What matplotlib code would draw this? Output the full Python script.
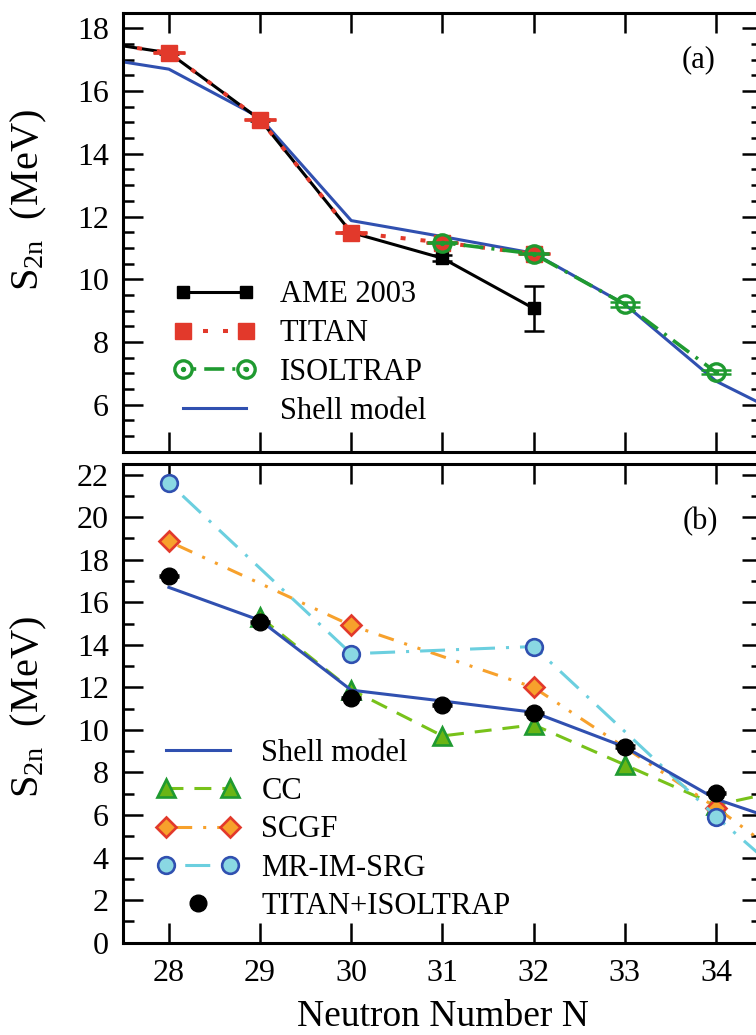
import matplotlib
matplotlib.use('Agg')
import matplotlib.pyplot as plt
from matplotlib.ticker import MultipleLocator
from matplotlib.legend_handler import HandlerLine2D, HandlerTuple

plt.rcParams['font.family'] = 'Liberation Serif'
plt.rcParams['mathtext.fontset'] = 'custom'
plt.rcParams['mathtext.rm'] = 'Liberation Serif'
plt.rcParams['mathtext.it'] = 'Liberation Serif:italic'
plt.rcParams['lines.scale_dashes'] = False

# two-neutron separation energies (MeV) vs neutron number
N_AME = [27, 28, 29, 30, 31, 32]
S2N_AME = [17.66, 17.22, 15.09, 11.49, 10.67, 9.07]
ERR_AME = [0.03, 0.03, 0.03, 0.03, 0.10, 0.71]

N_TITAN = [27, 28, 29, 30, 31, 32]
S2N_TITAN = [17.66, 17.22, 15.09, 11.49, 11.17, 10.81]
ERR_TITAN = [0.02, 0.02, 0.02, 0.02, 0.02, 0.02]

N_ISOLTRAP = [31, 32, 33, 34]
S2N_ISOLTRAP = [11.17, 10.81, 9.20, 7.03]
ERR_ISOLTRAP = [0.02, 0.02, 0.07, 0.06]

N_SHELL = [27, 28, 29, 30, 31, 32, 33, 34, 35]
S2N_SHELL = [17.16, 16.70, 15.15, 11.87, 11.36, 10.83, 9.20, 6.75, 5.30]

N_CC = [29, 30, 31, 32, 33, 34, 35]
S2N_CC = [15.30, 11.89, 9.72, 10.24, 8.36, 6.47, 7.40]

N_SCGF = [28, 30, 32, 34, 35]
S2N_SCGF = [18.86, 14.91, 12.00, 6.35, 3.20]

N_MR = [28, 30, 32, 34, 35]
S2N_MR = [21.61, 13.58, 13.92, 5.93, 2.20]

N_EXP = [28, 29, 30, 31, 32, 33, 34]
S2N_EXP = [17.22, 15.09, 11.49, 11.17, 10.81, 9.20, 7.03]
ERR_EXP = [0.05, 0.05, 0.05, 0.05, 0.05, 0.07, 0.06]

RED = '#e2392b'
GREEN = '#1f9a30'
BLUE = '#3050b0'
CC_LINE = '#78c21a'
CC_FACE = '#6ab515'
ORANGE = '#f7a12c'
CYAN_LINE = '#6bcfdf'
CYAN_FACE = '#8ad8e3'

W, H = 756, 1035
fig = plt.figure(figsize=(W / 100, H / 100), dpi=100)

left, right = 123.3, 761.6
ax1 = fig.add_axes([left / W, 1 - 451.7 / H, (right - left) / W, (451.7 - 12.7) / H])
ax2 = fig.add_axes([left / W, 1 - 942.7 / H, (right - left) / W, (942.7 - 464.0) / H])


def style_axes(ax):
    for s in ax.spines.values():
        s.set_linewidth(2.2)
    ax.set_xlim(27.5, 34.5)
    ax.xaxis.set_major_locator(MultipleLocator(1))
    ax.tick_params(which='both', direction='in', top=True, right=True, width=1.8)
    ax.tick_params(which='major', length=14.5, labelsize=23)
    ax.tick_params(which='minor', length=8)
    ax.tick_params(axis='y', pad=10.5)
    ax.tick_params(axis='x', pad=12)
    ax.tick_params(axis='x', which='minor', bottom=False, top=False)


style_axes(ax1)
style_axes(ax2)

# ---- (a) measurements vs shell model
ax1.set_ylim(4.5, 18.5)
ax1.yaxis.set_major_locator(MultipleLocator(2))
ax1.yaxis.set_minor_locator(MultipleLocator(0.5))
ax1.tick_params(axis='x', labelbottom=False)

shell_a, = ax1.plot(N_SHELL, S2N_SHELL, color=BLUE, lw=2.2, zorder=2, label='Shell model')

ax1.errorbar(N_AME, S2N_AME, yerr=ERR_AME, fmt='none', ecolor='black', elinewidth=1.8,
             capsize=7.5, capthick=1.8, zorder=3)
ame, = ax1.plot(N_AME, S2N_AME, color='black', lw=2.2, marker='s', ms=9,
                zorder=3, label='AME 2003')

ax1.errorbar(N_TITAN, S2N_TITAN, yerr=ERR_TITAN, fmt='none', ecolor=RED, elinewidth=1.8,
             capsize=11.5, capthick=2.0, zorder=4)
titan, = ax1.plot(N_TITAN, S2N_TITAN, color=RED, lw=2.9, dashes=(3.6, 10.8),
                  marker='s', ms=11.3, mec=RED, mfc=RED, zorder=4, label='TITAN')

ax1.errorbar(N_ISOLTRAP, S2N_ISOLTRAP, yerr=ERR_ISOLTRAP, fmt='none', ecolor=GREEN,
             elinewidth=1.8, capsize=11, capthick=1.8, zorder=5)
iso, = ax1.plot(N_ISOLTRAP, S2N_ISOLTRAP, color=GREEN, lw=2.6,
                ls=(12.9, (14.4, 5.8, 2.2, 5.8)),
                marker='o', ms=12.5, mfc='none', mec=GREEN, mew=2.4, zorder=5, label='ISOLTRAP')
iso_dot, = ax1.plot(N_ISOLTRAP, S2N_ISOLTRAP, ls='none', marker='o', ms=2.8,
                    color=GREEN, zorder=6)

ax1.legend([ame, titan, (iso, iso_dot), shell_a],
           ['AME 2003', 'TITAN', 'ISOLTRAP', 'Shell model'],
           handler_map={tuple: HandlerTuple(ndivide=1)},
           loc='upper left', bbox_to_anchor=(0.0791, 0.390), frameon=False,
           fontsize=22, numpoints=2, handlelength=2.65, handletextpad=0.82,
           labelspacing=0.32, borderpad=0, borderaxespad=0)
ax1.text(0.902, 0.894, '(a)', transform=ax1.transAxes, fontsize=22,
         ha='center', va='center')

# ---- (b) ab initio calculations vs measurements
ax2.set_ylim(0, 22.5)
ax2.yaxis.set_major_locator(MultipleLocator(2))
ax2.yaxis.set_minor_locator(MultipleLocator(1))

cc, = ax2.plot(N_CC, S2N_CC, color=CC_LINE, lw=2.2, dashes=(12.2, 7.9),
               marker='^', ms=13, mfc=CC_FACE, mec=GREEN, mew=1.9, zorder=2.0, label='CC')
scgf, = ax2.plot(N_SCGF, S2N_SCGF, color=ORANGE, lw=2.2,
                 ls=(32.6, (11.5, 7.9, 2.2, 7.9, 2.2, 7.9)),
                 marker='D', ms=10, mfc=ORANGE, mec=RED, mew=1.9, zorder=2.1, label='SCGF')
mr, = ax2.plot(N_MR, S2N_MR, color=CYAN_LINE, lw=2.2, ls=(22.5, (18, 7.9, 2.2, 7.9)),
               marker='o', ms=12, mfc=CYAN_FACE, mec=BLUE, mew=1.9, zorder=2.2,
               label='MR-IM-SRG')
shell_b, = ax2.plot(N_SHELL[1:], S2N_SHELL[1:], color=BLUE, lw=2.2, zorder=3,
                    label='Shell model')

ax2.errorbar(N_EXP, S2N_EXP, yerr=ERR_EXP, fmt='none', ecolor='black', elinewidth=1.8,
             capsize=7, capthick=1.8, zorder=5)
exp, = ax2.plot(N_EXP, S2N_EXP, ls='none', marker='o', ms=12, color='black', zorder=5,
                label='TITAN+ISOLTRAP')

ax2.legend([shell_b, cc, scgf, mr, exp],
           ['Shell model', 'CC', 'SCGF', 'MR-IM-SRG', 'TITAN+ISOLTRAP'],
           handler_map={exp: HandlerLine2D(numpoints=1)},
           loc='upper left', bbox_to_anchor=(0.052, 0.4255), frameon=False,
           fontsize=22, numpoints=2, handlelength=2.7, handletextpad=0.735,
           labelspacing=0.30, borderpad=0, borderaxespad=0)
ax2.text(0.9035, 0.8795, '(b)', transform=ax2.transAxes, fontsize=22,
         ha='center', va='center')

# axis labels
ylab = r'S$_{\mathrm{2n}}$  (MeV)'
ax1.set_ylabel(ylab, fontsize=29, va='center')
ax1.yaxis.set_label_coords((29 - left) / (right - left), (451.7 - 200) / 439.0)
ax2.set_ylabel(ylab, fontsize=29, va='center')
ax2.yaxis.set_label_coords((29 - left) / (right - left), (942.7 - 707) / 478.7)
ax2.set_xlabel('Neutron Number N', fontsize=27, va='baseline')
ax2.xaxis.set_label_coords(0.5, -(1026.5 - 942.7) / 478.7)

fig.savefig('out.png', dpi=100)
